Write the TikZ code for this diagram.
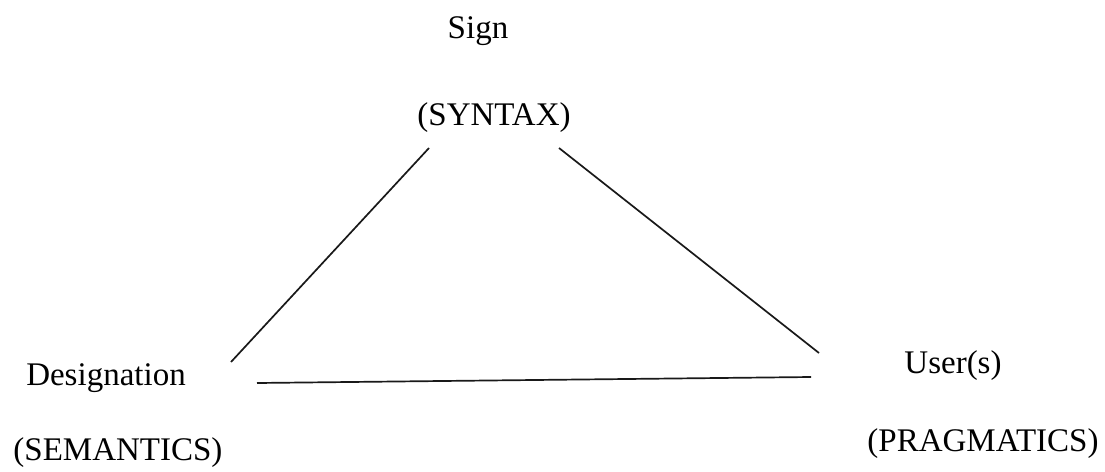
\documentclass[tikz,border=0pt]{standalone}
\usepackage{fontspec}
\setmainfont{Liberation Serif}
\begin{document}
\begin{tikzpicture}[x=1pt,y=-1pt,every node/.style={inner sep=0pt,anchor=base,font=\fontsize{33}{40}\selectfont},side/.style={line width=1.7pt,draw=black!90}]
            \useasboundingbox (0,0) rectangle (1105,471);
            \node (sign) at (478,38) {Sign};
            \node (syntax) at (494,125) {(SYNTAX)};
            \node (designation) at (106,385) {Designation};
            \node (semantics) at (118,460) {(SEMANTICS)};
            \node (users) at (953,373) {User(s)};
            \node (pragmatics) at (983,451) {(PRAGMATICS)};
            % ends of the three sides
            \coordinate (lt) at (429,148);
            \coordinate (lb) at (231,362);
            \coordinate (rt) at (559,148);
            \coordinate (rb) at (819,353);
            \coordinate (bl) at (257,383);
            \coordinate (br) at (811,377);
            \draw[side] (lt) -- (lb);
            \draw[side] (rt) -- (rb);
            \draw[side] (bl) -- (br);
        \end{tikzpicture}
\end{document}
